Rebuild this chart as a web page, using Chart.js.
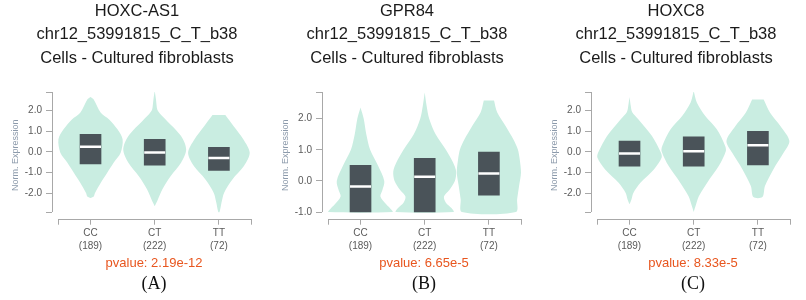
<!DOCTYPE html>
<html>
<head>
<meta charset="utf-8">
<script src="https://cdn.jsdelivr.net/npm/chart.js@4"></script>
<style>
    body { margin: 0; background: #fff; }
    #wrap { position: relative; width: 806px; height: 300px; overflow: hidden; background: #fff; }
    .panel { position: absolute; top: 0; width: 268px; height: 300px; }
    .panel canvas { position: absolute; left: 0; top: 0; }
    .title { position: absolute; left: 0; width: 274px; text-align: center; font: 16.5px "Liberation Sans", Arial, sans-serif; line-height: 20px; color: #1a1a1a; white-space: nowrap; }
    .pval { position: absolute; left: 54px; width: 200px; top: 255px; text-align: center; font: 13px "Liberation Sans", Arial, sans-serif; line-height: 15px; color: #e8561f; }
    .tag { position: absolute; left: 104px; width: 100px; top: 273px; text-align: center; font: 18px "Liberation Serif", "Times New Roman", serif; line-height: 20px; color: #111; }
</style>
</head>
<body>
<div id="wrap"></div>
<script>
// Ortak veriler
const genotypes = ["CC", "CT", "TT"];
const sampleCounts = [189, 222, 72];
const variantId = "chr12_53991815_C_T_b38";
const tissueName = "Cells - Cultured fibroblasts";
const geneNames = ["HOXC-AS1", "GPR84", "HOXC8"];
const pvalues = ["2.19e-12", "6.65e-5", "8.33e-5"];
const panelTags = ["(A)", "(B)", "(C)"];

// HOXC-AS1 (A)
const hoxcas1YRange = [-2.9, 2.88];
const hoxcas1YTicks = [-2, -1, 0, 1, 2];
const hoxcas1ViolinValues = [
    [2.64, 2.52, 1.88, 1.56, 1.08, 0.6, -0.05, -0.53, -1.01, -1.49, -1.98, -2.15, -2.22],
    [2.93, 2.52, 2.04, 1.85, 1.56, 0.76, 0.11, -0.53, -1.17, -1.81, -2.37, -2.62],
    [1.77, 1.23, 0.6, -0.05, -0.69, -1.33, -1.98, -2.46, -2.9]
];
const hoxcas1ViolinWidths = [
    [0, 0.05, 0.16, 0.29, 0.42, 0.5, 0.47, 0.36, 0.26, 0.16, 0.07, 0.05, 0],
    [0, 0.02, 0.04, 0.08, 0.17, 0.41, 0.49, 0.41, 0.25, 0.12, 0.04, 0],
    [0.1, 0.23, 0.38, 0.48, 0.39, 0.21, 0.08, 0.04, 0.01]
];
const hoxcas1Q1 = [-0.58, -0.64, -0.9];
const hoxcas1Median = [0.24, -0.03, -0.3];
const hoxcas1Q3 = [0.84, 0.6, 0.21];

// GPR84 (B)
const gpr84YRange = [-1.0, 2.86];
const gpr84YTicks = [-1, 0, 1, 2];
const gpr84ViolinValues = [
    [2.36, 2.0, 1.5, 1.0, 0.5, 0.0, -0.3, -0.5, -0.75, -0.9, -1.0],
    [2.84, 2.41, 2.0, 1.5, 1.0, 0.6, 0.3, 0.0, -0.3, -0.5, -0.7, -0.88, -1.0],
    [2.59, 2.2, 1.77, 1.34, 1.02, 0.7, 0.27, -0.16, -0.59, -1.0]
];
const gpr84ViolinWidths = [
    [0, 0.05, 0.09, 0.15, 0.27, 0.37, 0.34, 0.31, 0.4, 0.47, 0.5],
    [0, 0.03, 0.07, 0.17, 0.33, 0.44, 0.49, 0.47, 0.38, 0.3, 0.33, 0.42, 0.45],
    [0.08, 0.13, 0.26, 0.38, 0.45, 0.48, 0.5, 0.47, 0.44, 0.42]
];
const gpr84Q1 = [-1.0, -1.0, -0.46];
const gpr84Median = [-0.18, 0.13, 0.24];
const gpr84Q3 = [0.5, 0.73, 0.93];

// HOXC8 (C)
const hoxc8YRange = [-2.9, 2.88];
const hoxc8YTicks = [-2, -1, 0, 1, 2];
const hoxc8ViolinValues = [
    [2.64, 2.2, 1.92, 1.56, 0.76, -0.05, -0.29, -0.85, -1.49, -1.98, -2.3, -2.53],
    [2.93, 2.36, 1.72, 1.08, 0.28, 0.03, -0.69, -1.49, -2.14, -2.6, -2.9],
    [2.52, 1.88, 1.24, 0.52, -0.05, -0.85, -1.65, -2.18]
];
const hoxc8ViolinWidths = [
    [0, 0.02, 0.04, 0.14, 0.35, 0.49, 0.5, 0.38, 0.17, 0.06, 0.03, 0],
    [0, 0.05, 0.18, 0.36, 0.49, 0.5, 0.39, 0.21, 0.08, 0.03, 0],
    [0.09, 0.19, 0.35, 0.49, 0.4, 0.24, 0.11, 0.07]
];
const hoxc8Q1 = [-0.69, -0.69, -0.63];
const hoxc8Median = [-0.08, 0.03, 0.32];
const hoxc8Q3 = [0.52, 0.72, 0.98];

const panels = [
    { left: 0, yRange: hoxcas1YRange, yTicks: hoxcas1YTicks, vals: hoxcas1ViolinValues, widths: hoxcas1ViolinWidths, q1: hoxcas1Q1, med: hoxcas1Median, q3: hoxcas1Q3 },
    { left: 270, yRange: gpr84YRange, yTicks: gpr84YTicks, vals: gpr84ViolinValues, widths: gpr84ViolinWidths, q1: gpr84Q1, med: gpr84Median, q3: gpr84Q3 },
    { left: 539, yRange: hoxc8YRange, yTicks: hoxc8YTicks, vals: hoxc8ViolinValues, widths: hoxc8ViolinWidths, q1: hoxc8Q1, med: hoxc8Median, q3: hoxc8Q3 }
];

const violinColor = "#c9ede1";
const boxColor = "#4a5359";
const axisColor = "#a8a8a8";
const tickColor = "#5a5a5a";
const FONT = "'Liberation Sans', Arial, sans-serif";
const X_AXIS_Y = 218.7;

// Violin dış hattı: sol kenar yukarıdan aşağı, sağ kenar aşağıdan yukarı
function violinPoints(center, vals, widths) {
    const leftSide = vals.map((v, i) => ({ x: center - widths[i], y: v }));
    const rightSide = vals.map((v, i) => ({ x: center + widths[i], y: v })).reverse();
    return leftSide.concat(rightSide);
}

// D3 tarzı eksen çizgileri (eksenler birbirinden ayrık)
function makeAxisLines(yRange) {
    return {
        id: "axisLines",
        afterDraw(chart) {
            const { ctx, chartArea, scales } = chart;
            const x0 = Math.round(chartArea.left) + 0.5;
            const yTop = scales.y.getPixelForValue(yRange[1]);
            const yBot = scales.y.getPixelForValue(yRange[0]);
            const yAxis = Math.round(chartArea.bottom) + 0.5;
            ctx.save();
            ctx.strokeStyle = axisColor;
            ctx.lineWidth = 1;
            ctx.beginPath();
            ctx.moveTo(x0, yTop);
            ctx.lineTo(x0, yBot);
            ctx.moveTo(scales.x.getPixelForValue(-0.5), yAxis);
            ctx.lineTo(scales.x.getPixelForValue(2.5), yAxis);
            ctx.stroke();
            ctx.restore();
        }
    };
}

function createPanel(p, idx) {
    const wrap = document.getElementById("wrap");
    const div = document.createElement("div");
    div.className = "panel";
    div.style.left = p.left + "px";
    wrap.appendChild(div);

    const canvas = document.createElement("canvas");
    canvas.width = 268;
    canvas.height = 300;
    div.appendChild(canvas);

    // Başlık satırları
    [geneNames[idx], variantId, tissueName].forEach((txt, i) => {
        const t = document.createElement("div");
        t.className = "title";
        t.style.top = [0, 22.8, 47.3][i] + "px";
        t.textContent = txt;
        div.appendChild(t);
    });

    const pv = document.createElement("div");
    pv.className = "pval";
    pv.textContent = `pvalue: ${pvalues[idx]}`;
    div.appendChild(pv);

    const tag = document.createElement("div");
    tag.className = "tag";
    tag.textContent = panelTags[idx];
    div.appendChild(tag);

    const yUnit = 120 / (p.yRange[1] - p.yRange[0]);
    const yMin = p.yRange[0] - (X_AXIS_Y - 212) / yUnit;

    // Eksen uç çentikleri dahil y tick listesi (tekrarsız)
    const yTickValues = [p.yRange[0], ...p.yTicks, p.yRange[1]].filter((v, i, a) => a.indexOf(v) === i);

    const datasets = genotypes.map((g, i) => ({
        type: "line",
        label: g,
        data: violinPoints(i, p.vals[i], p.widths[i]),
        backgroundColor: violinColor,
        borderColor: "transparent",
        borderWidth: 0,
        pointRadius: 0,
        tension: 0.3,
        fill: "shape",
        order: 3
    }));

    datasets.push({
        type: "bar",
        label: "IQR",
        data: genotypes.map((g, i) => ({ x: i, y: [p.q1[i], p.q3[i]] })),
        backgroundColor: boxColor,
        borderWidth: 0,
        barThickness: 21,
        order: 2
    });

    datasets.push({
        type: "scatter",
        label: "median",
        data: genotypes.map((g, i) => ({ x: i, y: p.med[i] })),
        pointStyle: "line",
        pointRadius: 10.5,
        pointBorderWidth: 2.5,
        pointBorderColor: "#ffffff",
        showLine: false,
        order: 1
    });

    new Chart(canvas, {
        type: "line",
        data: { datasets },
        options: {
            responsive: false,
            animation: false,
            events: [],
            layout: { padding: { left: 0, right: 17, top: 92, bottom: 0 } },
            plugins: {
                legend: { display: false },
                tooltip: { enabled: false }
            },
            scales: {
                x: {
                    type: "linear",
                    min: -0.6,
                    max: 2.5,
                    offset: false,
                    border: { display: false },
                    grid: { display: true, drawOnChartArea: false, drawTicks: true, tickLength: 6, color: axisColor, offset: false },
                    afterBuildTicks: (scale) => {
                        scale.ticks = [-0.5, 0, 1, 2, 2.5].map((v) => ({ value: v }));
                    },
                    afterFit: (scale) => { scale.height = 300 - X_AXIS_Y; },
                    ticks: {
                        autoSkip: false,
                        maxRotation: 0,
                        padding: 1.5,
                        color: tickColor,
                        font: { family: FONT, size: 10, lineHeight: 1.35 },
                        callback: (value) => {
                            const i = genotypes.findIndex((g, k) => k === value);
                            return i >= 0 ? [genotypes[i], `(${sampleCounts[i]})`] : "";
                        }
                    }
                },
                y: {
                    type: "linear",
                    min: yMin,
                    max: p.yRange[1],
                    border: { display: false },
                    grid: { display: true, drawOnChartArea: false, drawTicks: true, tickLength: 6, color: axisColor },
                    afterBuildTicks: (scale) => {
                        scale.ticks = yTickValues.map((v) => ({ value: v }));
                    },
                    afterFit: (scale) => { scale.width = 52; },
                    title: {
                        display: true,
                        text: "Norm. Expression",
                        color: "#8c9aab",
                        font: { family: FONT, size: 9 },
                        padding: { top: 10, bottom: 0 }
                    },
                    ticks: {
                        autoSkip: false,
                        padding: 4,
                        color: tickColor,
                        font: { family: FONT, size: 10 },
                        callback: (value) => (p.yTicks.includes(value) ? value.toFixed(1) : "")
                    }
                }
            }
        },
        plugins: [makeAxisLines(p.yRange)]
    });
}

panels.forEach((p, idx) => createPanel(p, idx));
</script>
</body>
</html>
